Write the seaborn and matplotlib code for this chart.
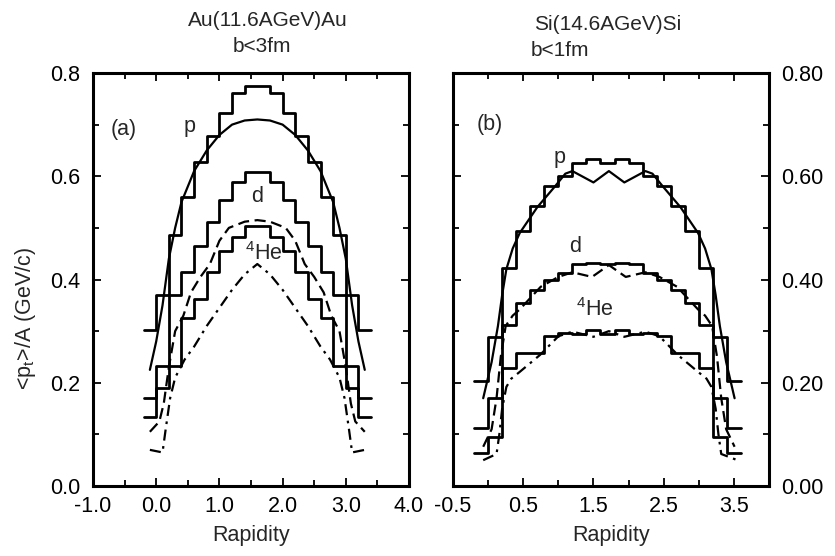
import numpy as np
import matplotlib
matplotlib.use("Agg")
import matplotlib.pyplot as plt
import pandas as pd
import seaborn as sns
from matplotlib.ticker import MultipleLocator, FixedLocator, FormatStrFormatter

sns.set_style("ticks")
plt.rcParams["font.family"] = ["Liberation Sans", "DejaVu Sans"]
plt.rcParams["mathtext.fontset"] = "custom"
plt.rcParams["mathtext.rm"] = "Liberation Sans"
plt.rcParams["mathtext.it"] = "Liberation Sans:italic"

# ---- panel (a): Au(11.6AGeV)Au, histogram bins 0.2 wide
edges_a = [-0.2, 0.0, 0.2, 0.4, 0.6, 0.8, 1.0, 1.2, 1.4, 1.6, 1.8, 2.0, 2.2, 2.4, 2.6, 2.8, 3.0, 3.2, 3.4]
p_hist_a = [0.302, 0.370, 0.486, 0.560, 0.628, 0.677, 0.722, 0.761, 0.775,
            0.775, 0.761, 0.722, 0.677, 0.628, 0.560, 0.486, 0.370, 0.302]
d_hist_a = [0.170, 0.233, 0.370, 0.415, 0.465, 0.512, 0.554, 0.589, 0.609,
            0.609, 0.589, 0.554, 0.512, 0.465, 0.415, 0.370, 0.233, 0.170]
he_hist_a = [0.134, 0.190, 0.233, 0.325, 0.363, 0.415, 0.455, 0.483, 0.504,
             0.504, 0.483, 0.455, 0.415, 0.363, 0.325, 0.233, 0.190, 0.134]

p_x_a = [-0.1, 0.0, 0.1, 0.2, 0.3, 0.4, 0.6, 0.8, 1.0, 1.2, 1.4, 1.6,
         1.8, 2.0, 2.2, 2.4, 2.6, 2.8, 2.9, 3.0, 3.1, 3.2, 3.3]
p_y_a = [0.225, 0.28, 0.35, 0.44, 0.50, 0.55, 0.61, 0.65, 0.68, 0.70, 0.708, 0.71,
         0.708, 0.70, 0.68, 0.65, 0.61, 0.55, 0.50, 0.44, 0.35, 0.28, 0.225]
d_x_a = [-0.1, 0.05, 0.12, 0.2, 0.3, 0.43, 0.55, 0.7, 0.85, 1.0, 1.15, 1.4, 1.6,
         1.8, 2.05, 2.2, 2.35, 2.5, 2.65, 2.77, 2.9, 3.0, 3.08, 3.15, 3.3]
d_y_a = [0.105, 0.125, 0.16, 0.23, 0.30, 0.33, 0.375, 0.405, 0.43, 0.475, 0.50, 0.512, 0.515,
         0.512, 0.50, 0.475, 0.43, 0.405, 0.375, 0.33, 0.30, 0.23, 0.16, 0.125, 0.105]
he_x_a = [-0.1, 0.1, 0.15, 0.22, 0.3, 0.45, 0.6, 0.8, 1.0, 1.2, 1.4, 1.6,
          1.8, 2.0, 2.2, 2.4, 2.6, 2.75, 2.9, 2.98, 3.05, 3.1, 3.3]
he_y_a = [0.07, 0.065, 0.11, 0.17, 0.21, 0.245, 0.27, 0.31, 0.345, 0.38, 0.41, 0.43,
          0.41, 0.38, 0.345, 0.31, 0.27, 0.245, 0.21, 0.17, 0.11, 0.065, 0.07]

# ---- panel (b): Si(14.6AGeV)Si
edges_b = [-0.2, 0.0, 0.2, 0.4, 0.6, 0.8, 1.0, 1.2, 1.4, 1.6, 1.8, 2.0, 2.2, 2.4, 2.6, 2.8, 3.0, 3.2, 3.4, 3.6]
p_hist_b = [0.203, 0.288, 0.422, 0.493, 0.542, 0.581, 0.600, 0.626, 0.633, 0.626,
            0.633, 0.626, 0.600, 0.581, 0.542, 0.493, 0.422, 0.288, 0.203]
d_hist_b = [0.112, 0.170, 0.312, 0.354, 0.380, 0.399, 0.412, 0.430, 0.432, 0.430,
            0.432, 0.430, 0.412, 0.399, 0.380, 0.354, 0.312, 0.170, 0.112]
he_hist_b = [0.064, 0.095, 0.229, 0.257, 0.257, 0.290, 0.297, 0.295, 0.302, 0.295,
             0.302, 0.295, 0.297, 0.290, 0.257, 0.257, 0.229, 0.095, 0.064]

p_x_b = [-0.07, 0.05, 0.14, 0.2, 0.26, 0.35, 0.45, 0.7, 0.95, 1.1, 1.2, 1.5, 1.72,
         1.94, 2.24, 2.34, 2.49, 2.74, 2.99, 3.09, 3.18, 3.24, 3.3, 3.39, 3.51]
p_y_b = [0.17, 0.24, 0.31, 0.37, 0.42, 0.46, 0.49, 0.54, 0.58, 0.605, 0.61, 0.588, 0.61,
         0.588, 0.61, 0.605, 0.58, 0.54, 0.49, 0.46, 0.42, 0.37, 0.31, 0.24, 0.17]
d_x_b = [-0.07, 0.05, 0.12, 0.18, 0.25, 0.35, 0.45, 0.75, 1.0, 1.2, 1.48, 1.72,
         1.96, 2.24, 2.44, 2.69, 2.99, 3.09, 3.19, 3.26, 3.32, 3.39, 3.51]
d_y_b = [0.076, 0.11, 0.17, 0.25, 0.31, 0.33, 0.342, 0.386, 0.405, 0.414, 0.405, 0.428,
         0.405, 0.414, 0.405, 0.386, 0.342, 0.33, 0.31, 0.25, 0.17, 0.11, 0.076]
he_x_b = [-0.07, 0.12, 0.16, 0.2, 0.26, 0.33, 0.45, 0.74, 1.0, 1.2, 1.5, 1.72,
          1.94, 2.24, 2.44, 2.7, 2.99, 3.11, 3.18, 3.24, 3.28, 3.32, 3.55]
he_y_b = [0.05, 0.062, 0.10, 0.15, 0.192, 0.208, 0.221, 0.254, 0.29, 0.299, 0.289, 0.300,
          0.289, 0.299, 0.29, 0.254, 0.221, 0.208, 0.192, 0.15, 0.10, 0.062, 0.05]

FS = 15.5
HIST_LW = 2.0
CURVE_LW = 1.6

fig = plt.figure(figsize=(8.35, 5.56), dpi=100)
ax1 = fig.add_axes([93 / 835, 70 / 556, 316 / 835, 413 / 556])
ax2 = fig.add_axes([453 / 835, 70 / 556, 316 / 835, 413 / 556])


def draw_hist(ax, edges, vals):
    df = pd.DataFrame({"x": edges, "y": list(vals) + [vals[-1]]})
    sns.lineplot(data=df, x="x", y="y", ax=ax, color="black", lw=HIST_LW,
                 drawstyle="steps-post", estimator=None, sort=False)


def draw_curve(ax, xs, ys, dashes):
    df = pd.DataFrame({"x": xs, "y": ys})
    sns.lineplot(data=df, x="x", y="y", ax=ax, color="black", lw=CURVE_LW,
                 estimator=None, sort=False, dashes=False, linestyle=dashes)


draw_hist(ax1, edges_a, p_hist_a)
draw_hist(ax1, edges_a, d_hist_a)
draw_hist(ax1, edges_a, he_hist_a)
draw_curve(ax1, p_x_a, p_y_a, "-")
draw_curve(ax1, d_x_a, d_y_a, (0, (5, 2.5)))
draw_curve(ax1, he_x_a, he_y_a, (0, (5, 2.5, 1.2, 2.5)))

draw_hist(ax2, edges_b, p_hist_b)
draw_hist(ax2, edges_b, d_hist_b)
draw_hist(ax2, edges_b, he_hist_b)
draw_curve(ax2, p_x_b, p_y_b, "-")
draw_curve(ax2, d_x_b, d_y_b, (0, (5, 2.5)))
draw_curve(ax2, he_x_b, he_y_b, (0, (5, 2.5, 1.2, 2.5)))

# axes styling
ax1.set_xlim(-1.0, 4.0)
ax2.set_xlim(-0.5, 4.0)
for ax in (ax1, ax2):
    ax.set_ylim(0.0, 0.8)
    ax.yaxis.set_major_locator(MultipleLocator(0.2))
    ax.yaxis.set_minor_locator(MultipleLocator(0.1))
    ax.xaxis.set_minor_locator(MultipleLocator(0.5))
    ax.tick_params(which="both", direction="in", top=True, right=True,
                   width=1.3, labelsize=FS, colors="black")
    ax.tick_params(which="major", length=6)
    ax.tick_params(which="minor", length=4)
    ax.tick_params(axis="x", pad=7)
    ax.tick_params(axis="y", pad=9)
    for s in ax.spines.values():
        s.set_linewidth(2.2)
        s.set_color("black")
    ax.set_xlabel("Rapidity", fontsize=FS, labelpad=6)
    ax.set_ylabel("")

ax1.xaxis.set_major_locator(MultipleLocator(1.0))
ax1.xaxis.set_major_formatter(FormatStrFormatter("%.1f"))
ax1.yaxis.set_major_formatter(FormatStrFormatter("%.1f"))

ax2.xaxis.set_major_locator(FixedLocator([-0.5, 0.5, 1.5, 2.5, 3.5]))
ax2.xaxis.set_major_formatter(FormatStrFormatter("%.1f"))
ax2.yaxis.set_major_formatter(FormatStrFormatter("%.2f"))
ax2.tick_params(axis="y", labelleft=False, labelright=True)

# labels inside panels
ax1.text(-0.72, 0.69, "(a)", fontsize=FS, va="center", ha="left")
ax1.text(0.53, 0.696, "p", fontsize=FS, va="center", ha="center")
ax1.text(1.59, 0.56, "d", fontsize=FS, va="center", ha="center")
ax1.text(1.7, 0.45, r"$^{\rm 4}$He", fontsize=FS, va="center", ha="center")

ax2.text(-0.17, 0.70, "(b)", fontsize=FS, va="center", ha="left")
ax2.text(1.02, 0.637, "p", fontsize=FS, va="center", ha="center")
ax2.text(1.24, 0.464, "d", fontsize=FS, va="center", ha="center")
ax2.text(1.52, 0.341, r"$^{\rm 4}$He", fontsize=FS, va="center", ha="center")

# titles and y label
fig.text(268 / 835, 1 - 20 / 556, "Au(11.6AGeV)Au", fontsize=FS - 0.5, ha="center", va="center")
fig.text(262 / 835, 1 - 47 / 556, "b<3fm", fontsize=FS - 0.5, ha="center", va="center")
fig.text(608 / 835, 1 - 25 / 556, "Si(14.6AGeV)Si", fontsize=FS - 0.5, ha="center", va="center")
fig.text(560 / 835, 1 - 51 / 556, "b<1fm", fontsize=FS - 0.5, ha="center", va="center")
fig.text(25 / 835, 1 - 318 / 556, r"<p$_{\rm t}$>/A (GeV/c)", fontsize=FS,
         rotation=90, ha="center", va="center")

fig.savefig("out.png", dpi=100)
